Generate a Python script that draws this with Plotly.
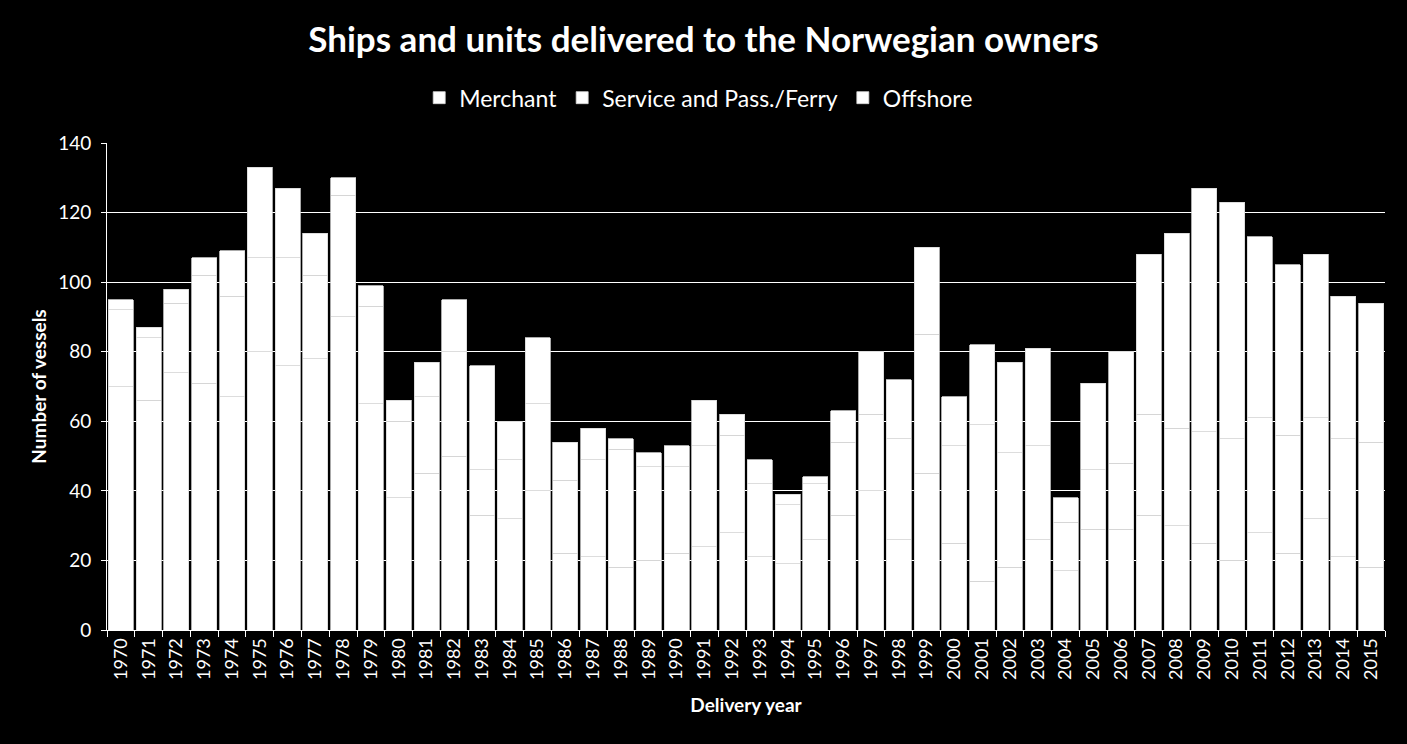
import plotly.graph_objects as go

years = [str(y) for y in range(1970, 2016)]
merchant = [70, 66, 74, 71, 67, 80, 76, 78, 90, 65,
            38, 45, 50, 33, 32, 40, 22, 21, 18, 20,
            22, 24, 28, 21, 19, 26, 33, 40, 26, 45,
            25, 14, 18, 26, 17, 29, 29, 33, 30, 25,
            20, 28, 22, 32, 21, 18]
service = [22, 18, 20, 31, 29, 27, 31, 24, 35, 28,
           22, 22, 30, 13, 17, 25, 21, 28, 34, 27,
           25, 29, 28, 21, 17, 16, 21, 22, 29, 40,
           28, 45, 33, 27, 14, 17, 19, 29, 28, 32,
           35, 33, 34, 29, 34, 36]
offshore = [3, 3, 4, 5, 13, 26, 20, 12, 5, 6,
            6, 10, 15, 30, 11, 19, 11, 9, 3, 4,
            6, 13, 6, 7, 3, 2, 9, 18, 17, 25,
            14, 23, 26, 28, 7, 25, 32, 46, 56, 70,
            68, 52, 49, 47, 41, 40]

FONT = "Lato, 'Open Sans', sans-serif"

fig = go.Figure()
for name, vals in [("Merchant", merchant),
                   ("Service and Pass./Ferry", service),
                   ("Offshore", offshore)]:
    fig.add_trace(go.Bar(
        x=years, y=vals, name=name,
        marker=dict(color="#ffffff", line=dict(color="#d4d4d4", width=0.8)),
    ))

fig.update_layout(
    barmode="stack",
    bargap=0.1,
    width=1407, height=744,
    paper_bgcolor="#000000",
    plot_bgcolor="#000000",
    margin=dict(l=107, r=22, t=143, b=114),
    font=dict(family=FONT, color="#ffffff", size=17),
    title=dict(text="<b>Ships and units delivered to the Norwegian owners</b>",
               x=0.5, xanchor="center", y=0.946, yanchor="middle",
               font=dict(size=35, color="#ffffff", family=FONT)),
    legend=dict(orientation="h", x=0.463, xanchor="center", y=1.093, yanchor="middle",
                font=dict(size=23, color="#ffffff", family=FONT),
                traceorder="normal", itemwidth=30, bgcolor="rgba(0,0,0,0)"),
    showlegend=True,
)
fig.update_xaxes(
    type="category",
    tickangle=-90,
    tickfont=dict(size=18, color="#ffffff"),
    ticks="outside", tickson="boundaries", ticklen=6, tickcolor="#ffffff",
    showline=True, linecolor="#ffffff", linewidth=1,
    showgrid=False,
    title=dict(text="<b>Delivery year</b>", font=dict(size=19, color="#ffffff"), standoff=19),
)
fig.update_yaxes(
    range=[0, 140], dtick=20,
    tickfont=dict(size=19, color="#ffffff"),
    ticks="outside", ticklen=5, tickcolor="#ffffff",
    ticklabelstandoff=6,
    showline=True, linecolor="#ffffff", linewidth=1,
    showgrid=True, gridcolor="#ffffff", gridwidth=1,
    zeroline=False,
    title=dict(text="<b>Number of vessels</b>", font=dict(size=19, color="#ffffff"), standoff=6),
)

fig.write_html("out.html")
